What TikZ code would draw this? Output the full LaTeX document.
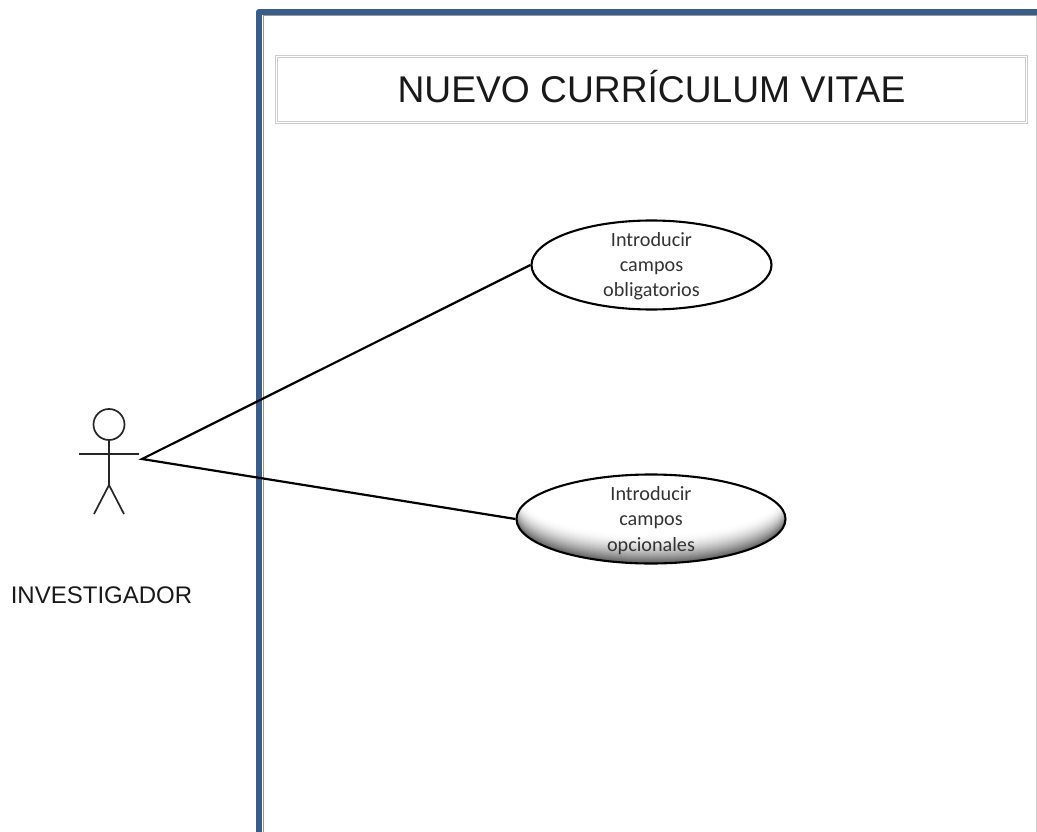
\documentclass[tikz,border=0pt]{standalone}
\usepackage{fontspec}
\setmainfont{Liberation Sans}
\newfontfamily\calfont{Carlito}
\usetikzlibrary{shapes.geometric}
\definecolor{framecol}{RGB}{56,93,138}
\definecolor{titlegray}{RGB}{205,205,205}
\tikzset{
  usecase/.style={ellipse,draw=black,line width=2.1pt,inner xsep=0pt,inner ysep=-8pt,minimum height=89pt,align=center,
    font=\calfont\fontsize{20.2}{25.2}\selectfont,text=black!80},
  link/.style={line width=2.2pt,black,line join=miter},
  stick/.style={line width=1.7pt,black!85},
}
\begin{document}
\begin{tikzpicture}[x=1pt,y=-1pt]
\useasboundingbox (0,0) rectangle (1037,832);
% system frame
\draw[black!18,line width=1pt] (1036.5,16) -- (1036.5,832);
\draw[black!40,line width=1pt] (263,832) -- (263,16) -- (1037,16);
\draw[framecol,line width=6.4pt,line join=round] (259,832) -- (259,12) -- (1037,12);
% title box
\node[draw=titlegray,double=white,double distance=0.8pt,line width=1.3pt,minimum width=750pt,minimum height=66pt,inner sep=0pt,
  font=\fontsize{37.2}{40}\selectfont,text=black!90] (title) at (651.5,89.5) {\raisebox{6pt}{NUEVO CURRÍCULUM VITAE}};
% use cases
\node[usecase,minimum width=240pt] (uc1) at (651.5,265) {\rule{0pt}{17pt}Introducir\\campos\\obligatorios};
% shaded crescent of the second use case
\coordinate (uc2c) at (651,519);
\begin{scope}
  \clip (uc2c) ellipse [x radius=134.5pt,y radius=44.5pt];
  \foreach \t in {0,...,28} {
    \pgfmathsetmacro{\g}{62*(1-\t/28)^1.7}
    \fill[black!\g!white] ([yshift=\t pt]uc2c) ellipse [x radius=134.5pt,y radius=44.5pt];
  }
\end{scope}
\node[usecase,minimum width=269pt] (uc2) at (uc2c) {\rule{0pt}{17pt}Introducir\\campos\\opcionales};
% actor
\node[circle,draw=black!85,line width=1.7pt,minimum size=31pt,inner sep=0pt] (head) at (109,424.5) {};
\coordinate (hip) at (109,485);
\coordinate (handl) at (79,454);
\coordinate (handr) at (139,454);
\coordinate (footl) at (94,514);
\coordinate (footr) at (124,514);
\coordinate (apex) at (142,459);
\draw[stick] (head.south) -- (hip);
\draw[stick] (handl) -- (handr);
\draw[stick] (footl) -- (hip) -- (footr);
\node[font=\fontsize{24}{28}\selectfont,text=black!90,inner sep=0pt] (actor) at (101.5,595) {INVESTIGADOR};
% connectors
\draw[link] (uc1.west) -- (apex) -- (uc2.west);
\end{tikzpicture}
\end{document}
